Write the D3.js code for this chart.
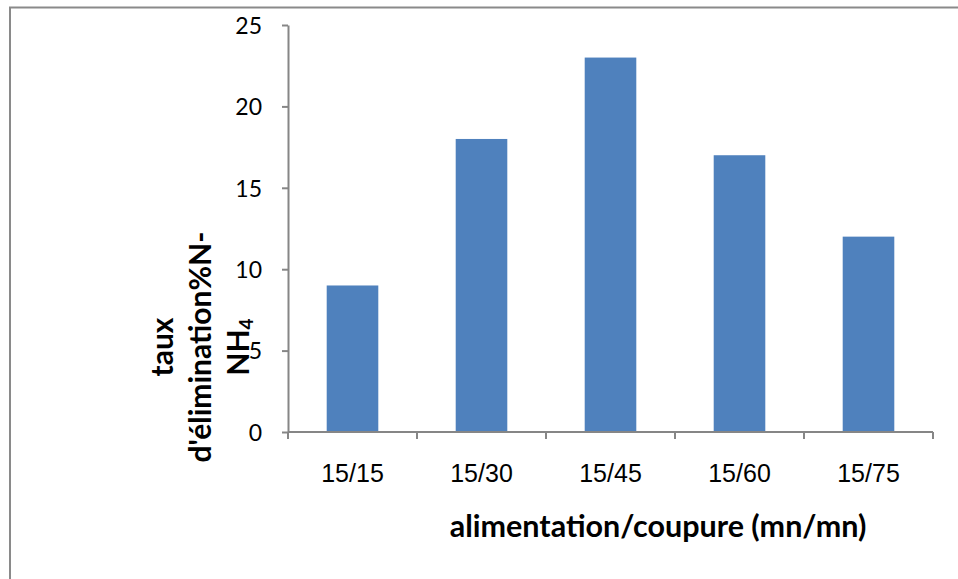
<!DOCTYPE html>
<html>
<head>
<meta charset="utf-8">
<script src="https://cdn.jsdelivr.net/npm/d3@7"></script>
<style>
  body { margin: 0; background: #fff; }
  svg { display: block; }
</style>
</head>
<body>
<div id="chart"></div>
<script>
// data
var categories = ["15/15", "15/30", "15/45", "15/60", "15/75"];
var values = [9, 18, 23, 17, 12];
var yTicks = [0, 5, 10, 15, 20, 25];
var xTitle = "alimentation/coupure (mn/mn)";
var yTitleLines = ["taux", "d'élimination%N-"];

var w = 958;
var h = 579;
var plotLeft = 288, plotRight = 933, plotTop = 25, plotBottom = 432;
var axisColor = "#868686";

var svg = d3.select("#chart")
    .append("svg")
    .attr("width", w)
    .attr("height", h);

// outer frame (cut off at right and bottom)
svg.append("rect")
  .attr("x", 10)
  .attr("y", 7.5)
  .attr("width", 1200)
  .attr("height", 1200)
  .attr("fill", "none")
  .attr("stroke", "#8a8a8a")
  .attr("stroke-width", 2);

var x = d3.scaleBand()
  .domain(categories)
  .range([plotLeft, plotRight])
  .paddingInner(0.6)
  .paddingOuter(0.3);

var y = d3.scaleLinear()
  .domain([0, 25])
  .range([plotBottom, plotTop]);

// bars
svg.selectAll("rect.bar")
  .data(values)
  .enter()
  .append("rect")
  .attr("class", "bar")
  .attr("x", function(d, i) { return x(categories[i]); })
  .attr("y", function(d) { return y(d); })
  .attr("width", x.bandwidth())
  .attr("height", function(d) { return plotBottom - y(d); })
  .attr("fill", "#4f81bd");

// y axis
var yAxis = svg.append("g")
  .attr("transform", "translate(" + plotLeft + ",0)")
  .call(d3.axisLeft(y).tickValues(yTicks).tickSize(6).tickPadding(20).tickSizeOuter(0));
yAxis.select(".domain").attr("stroke", axisColor).attr("stroke-width", 2);
yAxis.selectAll(".tick line").attr("stroke", axisColor).attr("stroke-width", 2);
yAxis.selectAll(".tick text")
  .attr("fill", "#000")
  .attr("font-family", "Lato, 'Open Sans', sans-serif")
  .attr("font-size", "23px")
  .attr("dy", "0.36em");

// x axis line + boundary ticks
var bounds = d3.range(categories.length + 1).map(function(i) {
  return plotLeft + i * x.step();
});
svg.append("line")
  .attr("x1", plotLeft).attr("x2", plotRight)
  .attr("y1", plotBottom).attr("y2", plotBottom)
  .attr("stroke", axisColor).attr("stroke-width", 2);
svg.selectAll("line.xtick")
  .data(bounds)
  .enter()
  .append("line")
  .attr("class", "xtick")
  .attr("x1", function(d) { return d; })
  .attr("x2", function(d) { return d; })
  .attr("y1", plotBottom)
  .attr("y2", plotBottom + 7)
  .attr("stroke", axisColor).attr("stroke-width", 2);

// x labels
svg.selectAll("text.xlab")
  .data(categories)
  .enter()
  .append("text")
  .attr("class", "xlab")
  .attr("x", function(d) { return x(d) + x.bandwidth() / 2; })
  .attr("y", 482)
  .attr("text-anchor", "middle")
  .attr("font-family", "'Liberation Sans', Arial, sans-serif")
  .attr("font-size", "25px")
  .text(function(d) { return d; });

// x title
svg.append("text")
  .attr("x", 658)
  .attr("y", 537)
  .attr("text-anchor", "middle")
  .attr("font-family", "Lato, sans-serif")
  .attr("font-weight", "bold")
  .attr("font-size", "30.5px")
  .text(xTitle);

// y title (rotated, three lines, last with subscript)
var yt = svg.append("g")
  .attr("transform", "translate(0,347) rotate(-90)")
  .attr("font-family", "Lato, sans-serif")
  .attr("font-weight", "bold")
  .attr("font-size", "30px")
  .attr("text-anchor", "middle");
yt.append("text").attr("x", 0).attr("y", 173).text(yTitleLines[0]);
yt.append("text").attr("x", 0).attr("y", 211).text(yTitleLines[1]);
var nh = yt.append("text").attr("x", 0).attr("y", 249);
nh.append("tspan").text("NH");
nh.append("tspan").attr("font-size", "19px").attr("dy", 4).text("4");
</script>
</body>
</html>
